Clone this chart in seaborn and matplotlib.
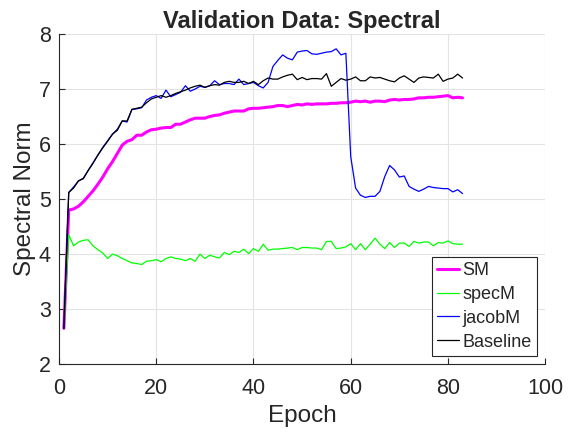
import numpy as np
import pandas as pd
import seaborn as sns
from matplotlib import pyplot as plt

epochs = list(range(1, 84))

sm = [
    2.65, 4.80, 4.82, 4.87, 4.95, 5.05, 5.15, 5.27, 5.40, 5.55,
    5.68, 5.83, 5.98, 6.05, 6.08, 6.16, 6.16, 6.22, 6.26, 6.27,
    6.29, 6.30, 6.30, 6.36, 6.36, 6.40, 6.44, 6.47, 6.47, 6.47,
    6.50, 6.52, 6.53, 6.56, 6.58, 6.60, 6.60, 6.60, 6.64, 6.65,
    6.65, 6.66, 6.67, 6.68, 6.70, 6.70, 6.68, 6.70, 6.72, 6.71,
    6.73, 6.72, 6.73, 6.73, 6.73, 6.74, 6.74, 6.75, 6.75, 6.76,
    6.78, 6.77, 6.78, 6.76, 6.78, 6.78, 6.77, 6.80, 6.81, 6.80,
    6.81, 6.81, 6.82, 6.84, 6.84, 6.85, 6.85, 6.86, 6.87, 6.88,
    6.84, 6.85, 6.84,
]

spec_m = [
    2.65, 4.35, 4.15, 4.22, 4.25, 4.26, 4.15, 4.08, 4.02, 3.92,
    4.00, 3.97, 3.92, 3.88, 3.84, 3.83, 3.81, 3.87, 3.88, 3.90,
    3.86, 3.92, 3.95, 3.92, 3.91, 3.88, 3.92, 3.87, 4.00, 3.92,
    3.98, 3.95, 3.93, 4.03, 3.99, 4.05, 4.03, 4.09, 4.01, 4.10,
    4.05, 4.18, 4.07, 4.09, 4.09, 4.10, 4.11, 4.12, 4.08, 4.12,
    4.12, 4.11, 4.11, 4.08, 4.23, 4.23, 4.10, 4.11, 4.13, 4.19,
    4.08, 4.19, 4.08, 4.18, 4.29, 4.18, 4.10, 4.21, 4.12, 4.20,
    4.20, 4.14, 4.23, 4.20, 4.22, 4.22, 4.15, 4.21, 4.20, 4.24,
    4.19, 4.18, 4.18,
]

jacob_m = [
    2.65, 5.12, 5.22, 5.33, 5.38, 5.52, 5.66, 5.80, 5.94, 6.06,
    6.18, 6.27, 6.42, 6.40, 6.63, 6.64, 6.66, 6.80, 6.85, 6.88,
    6.83, 6.98, 6.86, 6.90, 6.94, 7.06, 6.96, 7.00, 7.05, 7.03,
    7.06, 7.15, 7.08, 7.10, 7.10, 7.08, 7.18, 7.08, 7.10, 7.12,
    7.06, 7.02, 7.12, 7.41, 7.52, 7.62, 7.56, 7.53, 7.67, 7.69,
    7.70, 7.64, 7.63, 7.65, 7.67, 7.68, 7.73, 7.62, 7.65, 5.77,
    5.20, 5.07, 5.03, 5.05, 5.05, 5.14, 5.41, 5.61, 5.53, 5.40,
    5.42, 5.23, 5.18, 5.14, 5.18, 5.23, 5.21, 5.20, 5.19, 5.19,
    5.13, 5.17, 5.10,
]

baseline = [
    2.65, 5.12, 5.20, 5.33, 5.37, 5.52, 5.65, 5.80, 5.93, 6.05,
    6.18, 6.25, 6.42, 6.42, 6.63, 6.65, 6.67, 6.75, 6.82, 6.85,
    6.88, 6.85, 6.88, 6.92, 6.95, 6.98, 7.02, 7.05, 7.07, 7.03,
    7.06, 7.08, 7.07, 7.12, 7.14, 7.12, 7.12, 7.14, 7.10, 7.14,
    7.08, 7.15, 7.20, 7.18, 7.18, 7.22, 7.25, 7.27, 7.17, 7.21,
    7.17, 7.19, 7.19, 7.18, 7.28, 7.05, 7.12, 7.19, 7.16, 7.18,
    7.22, 7.15, 7.15, 7.22, 7.20, 7.21, 7.18, 7.15, 7.13, 7.20,
    7.24, 7.18, 7.12, 7.20, 7.22, 7.21, 7.20, 7.27, 7.14, 7.18,
    7.20, 7.27, 7.20,
]

series_names = ["SM", "specM", "jacobM", "Baseline"]
series_values = [sm, spec_m, jacob_m, baseline]
series_colors = ["#ff00ff", "#00ff00", "#0000ff", "#000000"]
series_widths = [2.2, 0.9, 0.9, 0.9]

sns.set_style("whitegrid")
plt.rcParams["font.family"] = ["Liberation Sans", "DejaVu Sans"]

fig = plt.figure(figsize=(5.69, 4.33), dpi=100)
ax = fig.add_axes([0.1037, 0.159, 0.8545, 0.7625])

for name, values, color, lw in zip(series_names, series_values, series_colors, series_widths):
    df = pd.DataFrame({"Epoch": epochs, "value": values})
    sns.lineplot(data=df, x="Epoch", y="value", color=color, linewidth=lw, label=name, ax=ax)

ax.set_xlim(0, 100)
ax.set_ylim(2, 8)
ax.set_xticks(np.arange(0, 101, 20))
ax.set_yticks(np.arange(2, 9, 1))
ax.grid(True, color="#e3e3e3", linewidth=0.8)
ax.set_axisbelow(True)

for side in ["top", "right"]:
    ax.spines[side].set_visible(False)
for side in ["left", "bottom"]:
    ax.spines[side].set_color("#262626")
    ax.spines[side].set_linewidth(0.8)

ax.tick_params(axis="both", direction="in", length=4, width=0.8, color="#262626",
               labelsize=15.5, labelcolor="#262626", left=True, bottom=True)
ax.tick_params(axis="x", pad=10)
ax.tick_params(axis="y", pad=6)

ax.set_xlabel("Epoch", fontsize=17.5, color="#262626", labelpad=4)
ax.set_ylabel("Spectral Norm", fontsize=17.5, color="#262626", labelpad=2)
ax.set_title("Validation Data: Spectral", fontsize=17, fontweight="bold", pad=4)

leg = ax.legend(loc="lower right", fontsize=13, frameon=True, fancybox=False,
                handlelength=1.2, handletextpad=0.2, borderpad=0.3,
                labelspacing=0.38, borderaxespad=0.45)
leg.get_frame().set_edgecolor("#262626")
leg.get_frame().set_linewidth(0.8)
leg.get_frame().set_alpha(1.0)

fig.savefig("out.png", dpi=100)
